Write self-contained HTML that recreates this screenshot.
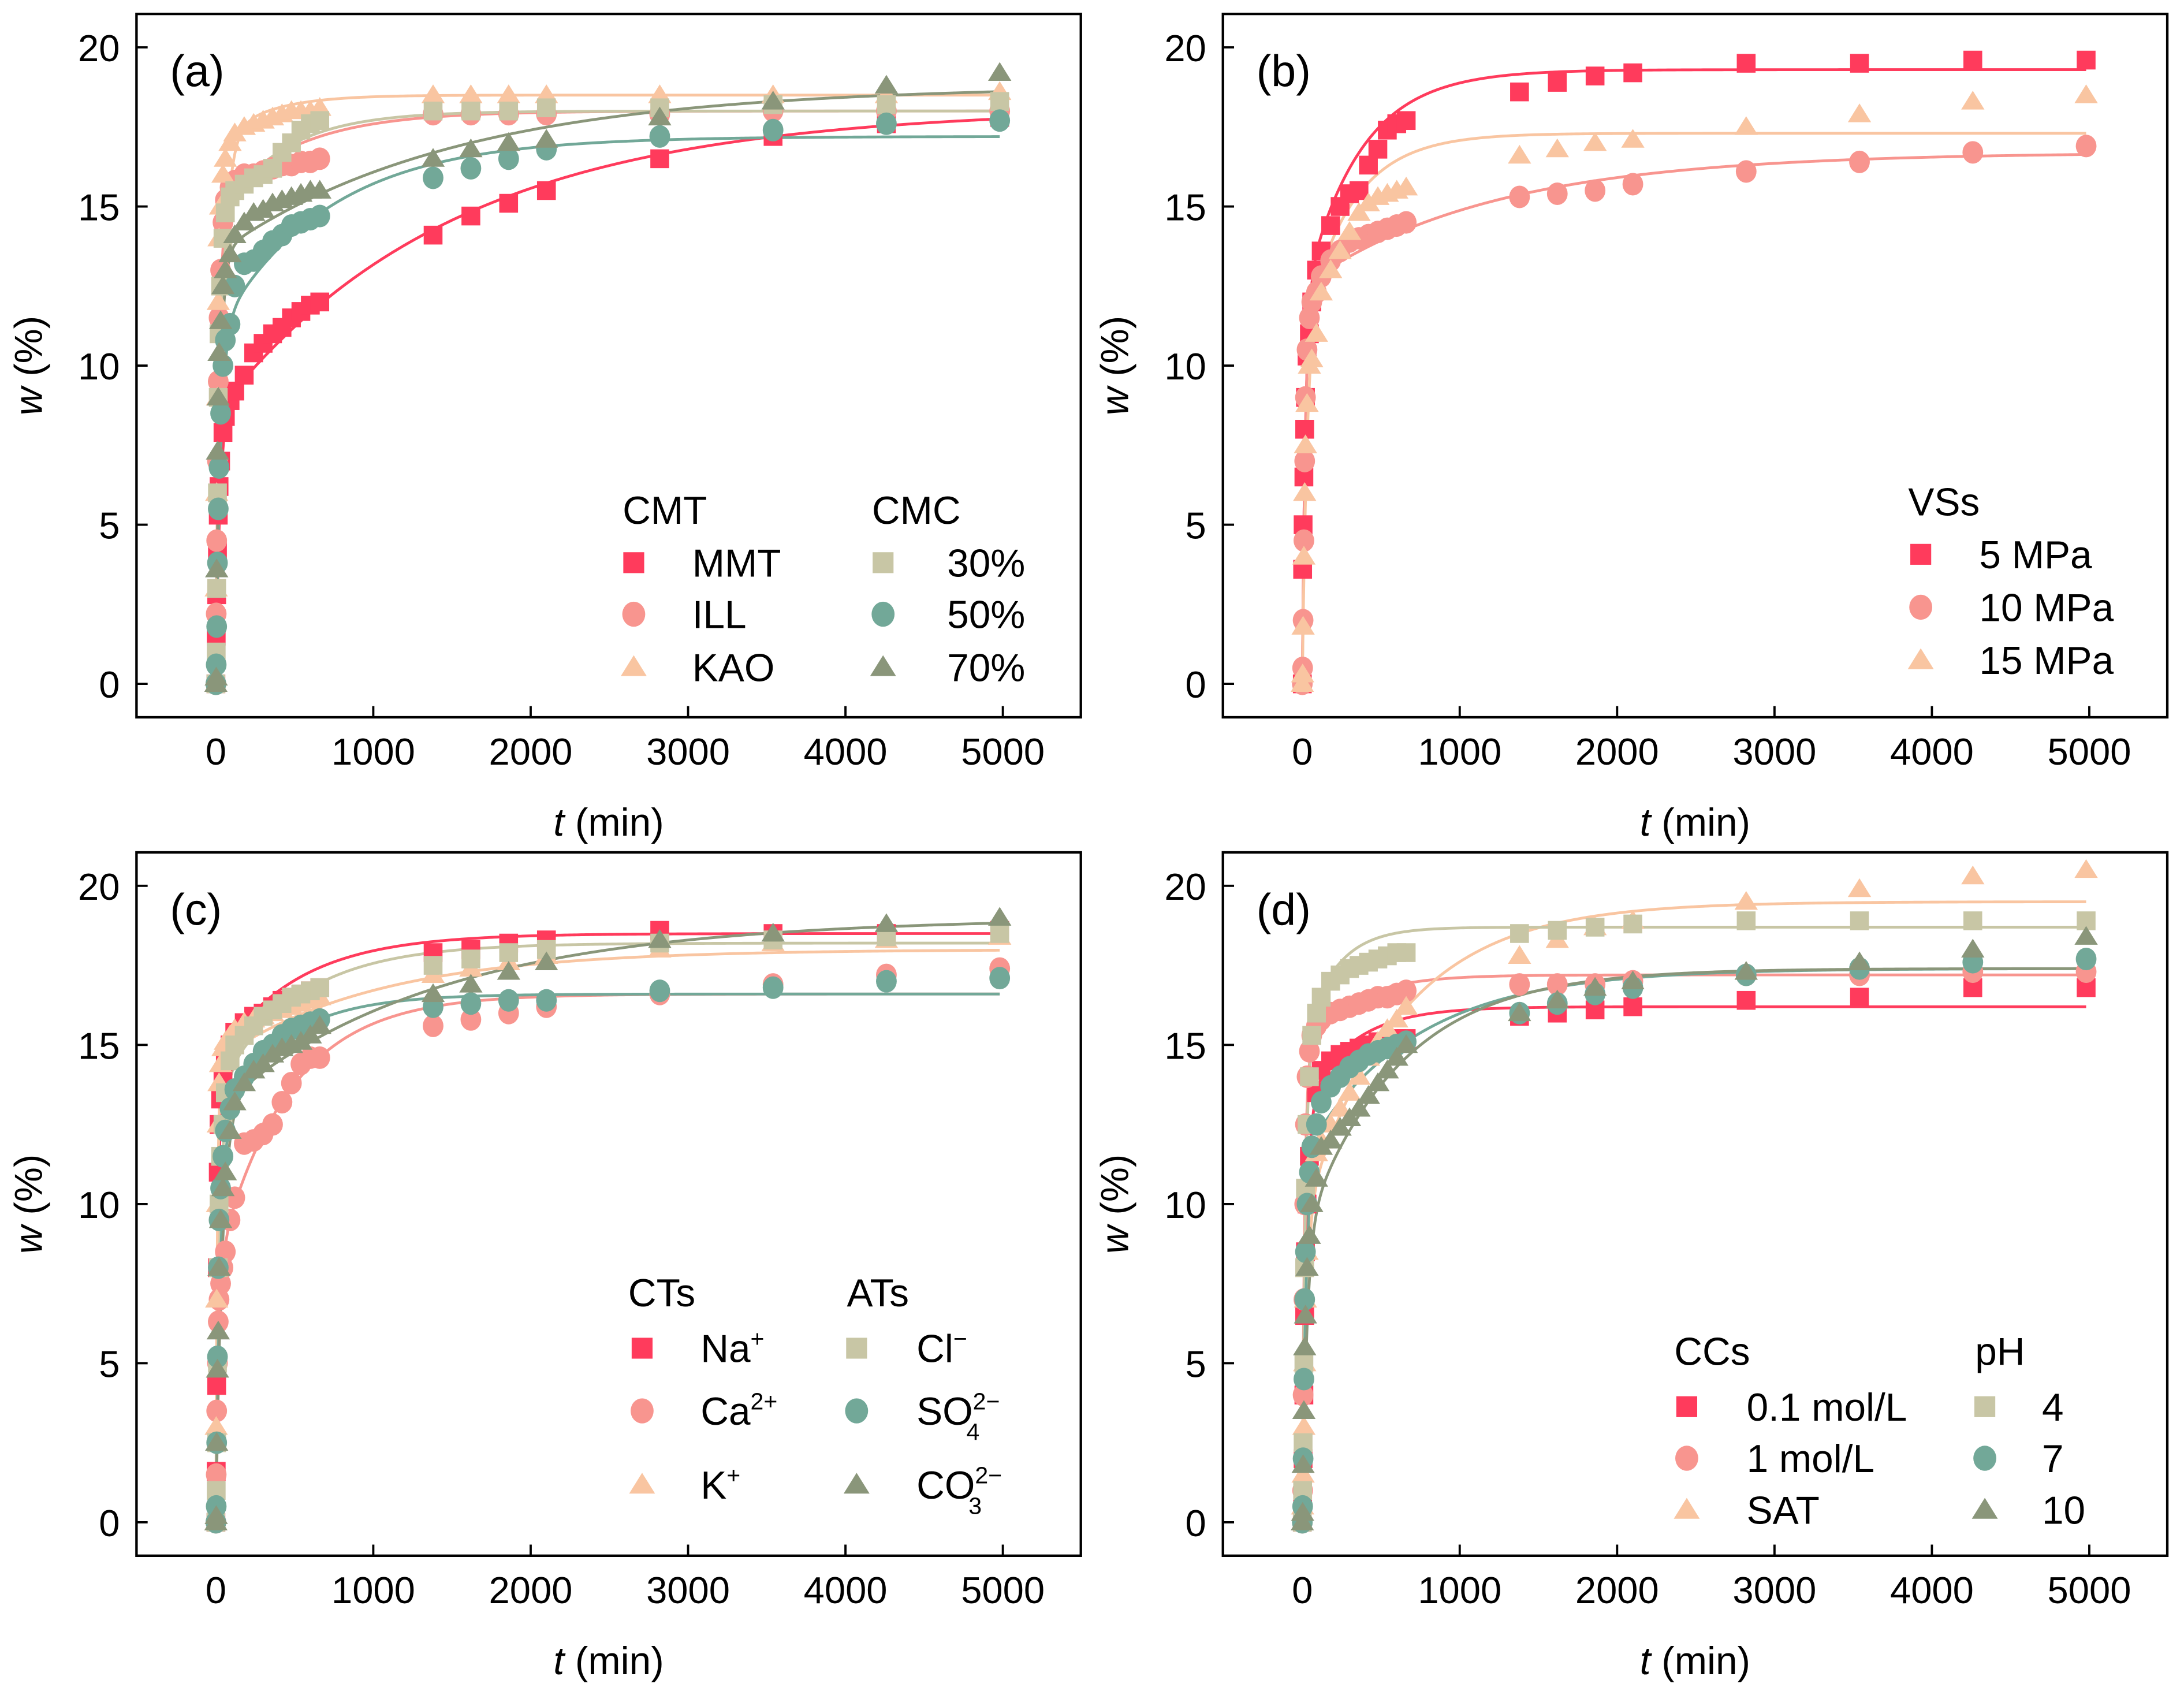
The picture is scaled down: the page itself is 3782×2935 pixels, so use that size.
<!DOCTYPE html>
<html><head><meta charset="utf-8">
<style>
html,body{margin:0;padding:0;background:#fff;}
svg{display:block;}
text{font-family:"Liberation Sans",Arial,sans-serif;fill:#000;}
</style></head>
<body>
<svg id="fig" width="3782" height="2935" viewBox="0 0 1568 1217" preserveAspectRatio="none" xmlns="http://www.w3.org/2000/svg"></svg>
<script>
// shared time points (min)
const times = [0,2,5,10,15,20,30,45,60,90,120,180,240,300,360,420,480,540,600,660,1380,1620,1860,2100,2820,3540,4260,4980];
const xTicks = [0,1000,2000,3000,4000,5000];
const yTicks = [0,5,10,15,20];

// panel (a)
const aMMT = [0,1.5,2.8,4.2,5.3,6.2,7.0,7.9,8.4,8.9,9.2,9.7,10.4,10.7,11.0,11.2,11.5,11.7,11.9,12.0,14.1,14.7,15.1,15.5,16.5,17.2,17.6,17.8];
const aILL = [0,2.2,4.5,7,9.5,11.5,13,14.5,15.2,15.6,15.8,16.0,16.0,16.1,16.2,16.3,16.3,16.4,16.4,16.5,17.9,17.9,17.9,17.9,17.9,18.0,18.0,18.0];
const aKAO = [0,3,6,9,12,14,15,16,16.5,17,17.3,17.5,17.6,17.7,17.8,17.9,18.0,18.0,18.0,18.1,18.5,18.5,18.5,18.5,18.5,18.5,18.5,18.6];
const a30 = [0,1,3,6,9,11,12.5,14,14.8,15.3,15.5,15.7,15.9,16.0,16.2,16.7,17.0,17.4,17.6,17.7,18.0,18.0,18.0,18.1,18.1,18.2,18.2,18.3];
const a50 = [0,0.6,1.8,3.8,5.5,6.8,8.5,10.0,10.8,11.3,12.5,13.2,13.3,13.6,13.9,14.1,14.4,14.5,14.6,14.7,15.9,16.2,16.5,16.8,17.2,17.4,17.6,17.7];
const a70 = [0,0.2,3.6,7.3,9.0,10.4,11.4,12.5,13.0,13.5,14.1,14.5,14.8,14.9,15.1,15.2,15.3,15.4,15.5,15.5,16.5,16.8,17.0,17.1,17.8,18.3,18.8,19.2];
// panel (b)
const b5 = [0,3.6,5,6.5,8,9,10.3,11,12,13,13.6,14.4,15.0,15.4,15.5,16.3,16.8,17.4,17.6,17.7,18.6,18.9,19.1,19.2,19.5,19.5,19.6,19.6];
const b10 = [0,0.5,2,4.5,7,9,10.5,11.5,12,12.3,12.8,13.3,13.6,13.9,14.0,14.1,14.2,14.3,14.4,14.5,15.3,15.4,15.5,15.7,16.1,16.4,16.7,16.9];
const b15 = [0,0.3,1.8,4,6,7.5,8.8,10,10.2,11,12.3,13.0,13.6,14.2,14.8,15.1,15.3,15.4,15.5,15.6,16.6,16.8,17.0,17.1,17.5,17.9,18.3,18.5];
// panel (c)
const cNa = [0,1.6,4.3,8,11,12.5,13.3,14,14.5,15,15.4,15.7,15.9,16.0,16.2,16.4,16.5,16.6,16.7,16.8,17.9,18.0,18.2,18.3,18.6,18.5,18.5,18.6];
const cCa = [0,1.5,3.5,5,6.3,7,7.5,8,8.5,9.5,10.2,11.9,12.0,12.2,12.5,13.2,13.8,14.4,14.6,14.6,15.6,15.8,16.0,16.2,16.6,16.9,17.2,17.4];
const cK = [0,3,7,10,12.5,13.8,14.4,14.9,15.1,15.3,15.5,15.7,15.8,15.9,16.0,16.1,16.2,16.3,16.4,16.5,17.2,17.4,17.6,17.8,18.0,18.2,18.3,18.4];
const cCl = [0,1,2.5,5,8,10,11.5,12.5,13.5,14.5,15.0,15.3,15.6,15.9,16.1,16.3,16.5,16.6,16.7,16.8,17.5,17.7,17.9,18.0,18.2,18.3,18.4,18.5];
const cSO4 = [0,0.5,2.5,5.2,8,9.5,10.5,11.5,12.3,13,13.6,14,14.4,14.8,15.0,15.3,15.5,15.6,15.7,15.8,16.2,16.3,16.4,16.4,16.7,16.8,17.0,17.1];
const cCO3 = [0,0.2,2.5,4.8,6,8,9.5,10.5,11,12.3,13.2,13.8,14.2,14.4,14.7,14.9,15.0,15.1,15.3,15.6,16.6,16.9,17.3,17.6,18.3,18.5,18.8,19.0];
// panel (d)
const d01 = [0,0.8,2,4,6.5,8.5,10,11.5,12.5,13.5,14.2,14.5,14.7,14.8,14.9,15.0,15.1,15.1,15.2,15.2,15.9,16.0,16.1,16.2,16.4,16.5,16.8,16.8];
const d1 = [0,1,4,7,10,12.5,14,14.8,15.3,15.6,15.8,16.0,16.1,16.2,16.3,16.4,16.5,16.5,16.6,16.7,16.9,16.9,16.9,17.0,17.2,17.2,17.3,17.3];
const dSAT = [0,0.5,1.5,3,5,7,8.5,10,11,11.6,12,12.5,13,13.5,14,14.6,15.1,15.5,15.8,16.2,17.8,18.3,18.7,18.9,19.5,19.9,20.3,20.5];
const dPH4 = [0,1,2.5,5,8,10.5,12.5,14,15.3,16,16.5,17,17.2,17.4,17.5,17.6,17.7,17.8,17.9,17.9,18.5,18.6,18.7,18.8,18.9,18.9,18.9,18.9];
const dPH7 = [0,0.5,2,4.5,7,8.5,10,11,11.8,12.5,13.2,13.7,14.0,14.3,14.5,14.7,14.8,14.9,15.0,15.1,16.0,16.3,16.6,16.8,17.2,17.4,17.6,17.7];
const dPH10 = [0,0.3,1.8,3.5,5.5,6.5,8,9,10,10.8,11.8,12.0,12.4,12.7,13.0,13.4,13.8,14.2,14.6,15.0,16.0,16.4,16.8,17.0,17.3,17.6,18.0,18.4];

// fitted-curve parameters [a1, tau1, a2, tau2]
const fitA = [[8.5,25,9.6,1500],[15,20,3,500],[17,40,1.5,300],[14.5,25,3.5,400],[11,30,6.2,700],[13.5,25,5.3,1500]];
const fitB = [[12,20,7.3,350],[12.5,20,4.2,1200],[11,30,6.3,300]];
const fitC = [[14.5,15,4,500],[8,20,8.6,450],[14.5,10,3.5,1000],[13.5,25,4.7,500],[12.5,30,4.1,400],[13,40,6,1400]];
const fitD = [[13,25,3.2,300],[14.8,15,2.4,300],[9.5,25,10,600],[15,20,3.7,200],[11.5,25,5.9,700],[9,30,8.4,600]];

const RED="#ff3b5c", SAL="#f8958f", PEA="#f9c5a1", BEI="#c8c6a5", TEA="#72a898", OLI="#8a967a";
const NS="http://www.w3.org/2000/svg";
const svg=document.getElementById('fig');
function el(tag,attrs,parent){const e=document.createElementNS(NS,tag);for(const k in attrs)e.setAttribute(k,attrs[k]);(parent||svg).appendChild(e);return e;}

function marker(g,shape,cx,cy,color,s){
  let m;
  if(shape==='sq') m=el('rect',{x:cx-s/2,y:cy-s/2,width:s,height:s,fill:color},g);
  else if(shape==='ci') m=el('ellipse',{cx:cx,cy:cy,rx:s*0.55,ry:s*0.6,fill:color},g);
  else { const h=s*0.95; m=el('polygon',{points:`${cx},${cy-h*0.6} ${cx-s*0.62},${cy+h*0.45} ${cx+s*0.62},${cy+h*0.45}`,fill:color},g); }
  return m;
}

function panel(cfg){
  const {L,R,T,B,x0,x5,y0,y20,label,series,fits,legend,name}=cfg;
  const g=el('g',{});
  
  
  const xs=t=>x0+(x5-x0)*t/5000;
  const ys=v=>y0+(y20-y0)*v/20;
  fits.forEach((p,i)=>{
    let d='';
    for(let k=0;k<=400;k++){
      const t=k<100? k*k*0.05 : 500+(k-100)*(4980-500)/300;
      const v=p[0]*(1-Math.exp(-t/p[1]))+p[2]*(1-Math.exp(-t/p[3]));
      d+=(k?'L':'M')+xs(t).toFixed(2)+','+ys(v).toFixed(2);
    }
    const ln=el('path',{d:d,fill:'none',stroke:series[i].color,'stroke-width':2},g);
    
    
  });
  series.forEach(s=>{
    const sg=el('g',{},g);
    
    
    s.vals.forEach((v,i)=>{
      const m=marker(sg,s.shape,xs(times[i]),ys(v),s.color,13.5);
      
      
    });
  });
  const fr=el('rect',{x:L,y:T,width:R-L,height:B-T,fill:'none',stroke:'#000','stroke-width':1.8},g);
  
  
  xTicks.forEach(t=>{
    const x=xs(t);
    if(t>0){const tk=el('line',{x1:x,y1:B,x2:x,y2:B-8,stroke:'#000','stroke-width':1.6},g);
      }
    const tx=el('text',{x:x,y:B+34,'font-size':27,'text-anchor':'middle'},g);
    tx.textContent=t;
    
    
  });
  yTicks.forEach(v=>{
    const y=ys(v);
    const tk=el('line',{x1:L,y1:y,x2:L+8,y2:y,stroke:'#000','stroke-width':1.6},g);
    
    const tx=el('text',{x:L-12,y:y+10,'font-size':27,'text-anchor':'end'},g);
    tx.textContent=v;
    
    
  });
  const xt=el('text',{x:(L+R)/2,y:B+85,'font-size':28,'text-anchor':'middle'},g);
  xt.innerHTML='<tspan font-style="italic">t</tspan> (min)';
  
  
  const yt=el('text',{x:0,y:0,'font-size':28,'text-anchor':'middle',transform:`translate(${L-68},${(T+B)/2}) rotate(-90)`},g);
  yt.innerHTML='<tspan font-style="italic">w</tspan> (%)';
  
  
  const pl=el('text',{x:L+24,y:T+52,'font-size':32},g);
  pl.textContent=label;
  
  
  const lg=el('g',{},g);
  
  
  legend.heads.forEach(h=>{
    const t=el('text',{x:h[0],y:h[1],'font-size':28},lg);
    t.textContent=h[2];
    
    
  });
  legend.items.forEach(it=>{
    const s=series[it[3]];
    const m=marker(lg,s.shape,it[0],it[1],s.color,15);
    
    
    const t=el('text',{x:it[2],y:it[1]+10,'font-size':28},lg);
    t.innerHTML=it[4];
    
    
  });
}

panel({name:'panel-a',L:98,R:776,T:10,B:515,x0:155,x5:720,y0:491,y20:34,label:'(a)',
  series:[{id:'mmt',vals:aMMT,color:RED,shape:'sq'},{id:'ill',vals:aILL,color:SAL,shape:'ci'},{id:'kao',vals:aKAO,color:PEA,shape:'tr'},
          {id:'cmc-30',vals:a30,color:BEI,shape:'sq'},{id:'cmc-50',vals:a50,color:TEA,shape:'ci'},{id:'cmc-70',vals:a70,color:OLI,shape:'tr'}],
  fits:fitA,
  legend:{heads:[[447,376,'CMT'],[626,376,'CMC']],
    items:[[455,404,497,0,'MMT'],[455,441,497,1,'ILL'],[455,479,497,2,'KAO'],[634,404,680,3,'30%'],[634,441,680,4,'50%'],[634,479,680,5,'70%']]}});
panel({name:'panel-b',L:878,R:1556,T:10,B:515,x0:935,x5:1500,y0:491,y20:34,label:'(b)',
  series:[{id:'vs-5mpa',vals:b5,color:RED,shape:'sq'},{id:'vs-10mpa',vals:b10,color:SAL,shape:'ci'},{id:'vs-15mpa',vals:b15,color:PEA,shape:'tr'}],
  fits:fitB,
  legend:{heads:[[1370,370,'VSs']],
    items:[[1379,398,1421,0,'5 MPa'],[1379,436,1421,1,'10 MPa'],[1379,474,1421,2,'15 MPa']]}});
panel({name:'panel-c',L:98,R:776,T:612,B:1117,x0:155,x5:720,y0:1093,y20:636,label:'(c)',
  series:[{id:'na',vals:cNa,color:RED,shape:'sq'},{id:'ca',vals:cCa,color:SAL,shape:'ci'},{id:'k',vals:cK,color:PEA,shape:'tr'},
          {id:'cl',vals:cCl,color:BEI,shape:'sq'},{id:'so4',vals:cSO4,color:TEA,shape:'ci'},{id:'co3',vals:cCO3,color:OLI,shape:'tr'}],
  fits:fitC,
  legend:{heads:[[451,938,'CTs'],[608,938,'ATs']],
    items:[[461,968,503,0,'Na<tspan font-size="17" dy="-11">+</tspan>'],[461,1013,503,1,'Ca<tspan font-size="17" dy="-11">2+</tspan>'],[461,1066,503,2,'K<tspan font-size="17" dy="-11">+</tspan>'],
           [615,968,658,3,'Cl<tspan font-size="17" dy="-11">−</tspan>'],[615,1013,658,4,'SO<tspan font-size="17" dy="-11">2−</tspan><tspan font-size="17" dx="-24" dy="22">4</tspan>'],[615,1066,658,5,'CO<tspan font-size="17" dy="-11">2−</tspan><tspan font-size="17" dx="-24" dy="22">3</tspan>']]}});
panel({name:'panel-d',L:878,R:1556,T:612,B:1117,x0:935,x5:1500,y0:1093,y20:636,label:'(d)',
  series:[{id:'cc-0-1',vals:d01,color:RED,shape:'sq'},{id:'cc-1',vals:d1,color:SAL,shape:'ci'},{id:'cc-sat',vals:dSAT,color:PEA,shape:'tr'},
          {id:'ph-4',vals:dPH4,color:BEI,shape:'sq'},{id:'ph-7',vals:dPH7,color:TEA,shape:'ci'},{id:'ph-10',vals:dPH10,color:OLI,shape:'tr'}],
  fits:fitD,
  legend:{heads:[[1202,980,'CCs'],[1418,980,'pH']],
    items:[[1211,1010,1254,0,'0.1 mol/L'],[1211,1047,1254,1,'1 mol/L'],[1211,1084,1254,2,'SAT'],[1425,1010,1466,3,'4'],[1425,1047,1466,4,'7'],[1425,1084,1466,5,'10']]}});
</script>
</body></html>
